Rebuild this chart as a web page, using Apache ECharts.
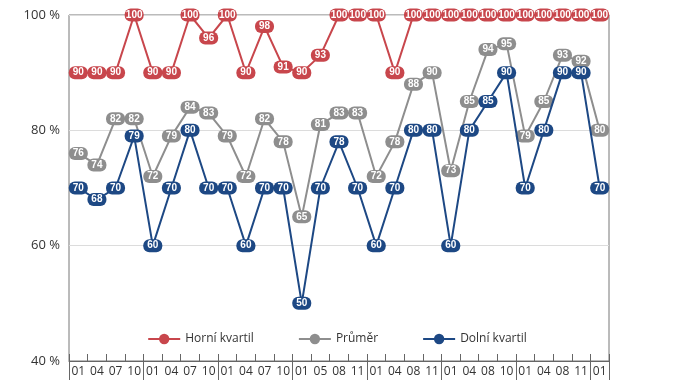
<!DOCTYPE html>
<html>
<head>
<meta charset="utf-8">
<script src="https://cdn.jsdelivr.net/npm/echarts@6/dist/echarts.min.js"></script>
<style>
html,body{margin:0;padding:0;background:#fff;}
#chart{width:674px;height:380px;}
</style>
</head>
<body>
<div id="chart"></div>
<script>
const categories = ['01','04','07','10','01','04','07','10','01','04','07','10','01','05','08','11','01','04','08','11','01','04','08','10','01','04','08','11','01'];
const horniKvartil = [90,90,90,100,90,90,100,96,100,90,98,91,90,93,100,100,100,90,100,100,100,100,100,100,100,100,100,100,100];
const prumer = [76,74,82,82,72,79,84,83,79,72,82,78,65,81,83,83,72,78,88,90,73,85,94,95,79,85,93,92,80];
const dolniKvartil = [70,68,70,79,60,70,80,70,70,60,70,70,50,70,78,70,60,70,80,80,60,80,85,90,70,80,90,90,70];
const seriesNames = ['Horní kvartil','Průměr','Dolní kvartil'];
const yTicks = [40,60,80,100];

const colors = ['#c8464c','#8e8e8e','#1d4884'];
const narrow = '"Liberation Sans Narrow","Arial Narrow",sans-serif';

function mkSeries(name, data, color, z) {
  return {
    name: name, type: 'line', data: data, z: z,
    color: color,
    symbol: 'circle', symbolSize: 2,
    lineStyle: {width: 2, color: color},
    itemStyle: {color: color},
    clip: false,
    label: {
      show: true, position: 'inside',
      backgroundColor: color, color: '#fff',
      fontFamily: narrow, fontWeight: 'bold', fontSize: 10, lineHeight: 11,
      width: 15, align: 'center', overflow: 'none',
      padding: [1, 2, 1, 2], borderRadius: 6
    }
  };
}

const chart = echarts.init(document.getElementById('chart'), null, {renderer: 'canvas'});
chart.setOption({
  animation: false,
  backgroundColor: '#fff',
  grid: {left: 69, right: 65, top: 15, bottom: 19, show: true, borderColor: '#777', borderWidth: 1},
  legend: {
    data: seriesNames, left: 'center', top: 328,
    itemWidth: 32, itemHeight: 13, itemGap: 44,
    textStyle: {fontFamily: '"Open Sans","Noto Sans",sans-serif', fontSize: 12, color: '#333'}
  },
  xAxis: [{
    type: 'category', data: categories, boundaryGap: true, position: 'bottom',
    axisLine: {lineStyle: {color: '#666'}},
    axisTick: {show: true, inside: true, length: 7, interval: 0, lineStyle: {color: '#666'}},
    axisLabel: {interval: 0, margin: 5, fontSize: 12, color: '#333', fontFamily: '"Open Sans","Noto Sans",sans-serif'},
    splitLine: {show: false}
  }, {
    type: 'category', data: categories, boundaryGap: true, position: 'bottom',
    axisLine: {show: false},
    axisTick: {show: true, inside: false, length: 20, interval: function (i) { return i % 4 === 0; }, lineStyle: {color: '#666'}},
    axisLabel: {show: false},
    splitLine: {show: false}
  }],
  yAxis: {
    type: 'value', min: yTicks[0], max: yTicks[yTicks.length - 1], interval: 20,
    axisLine: {show: false}, axisTick: {show: false},
    axisLabel: {formatter: '{value} %', fontSize: 13, color: '#333', margin: 9, fontFamily: '"Open Sans","Noto Sans",sans-serif'},
    splitLine: {lineStyle: {color: '#dcdcdc'}}
  },
  series: [
    mkSeries(seriesNames[0], horniKvartil, colors[0], 2),
    mkSeries(seriesNames[1], prumer, colors[1], 3),
    mkSeries(seriesNames[2], dolniKvartil, colors[2], 4)
  ]
});
</script>
</body>
</html>
